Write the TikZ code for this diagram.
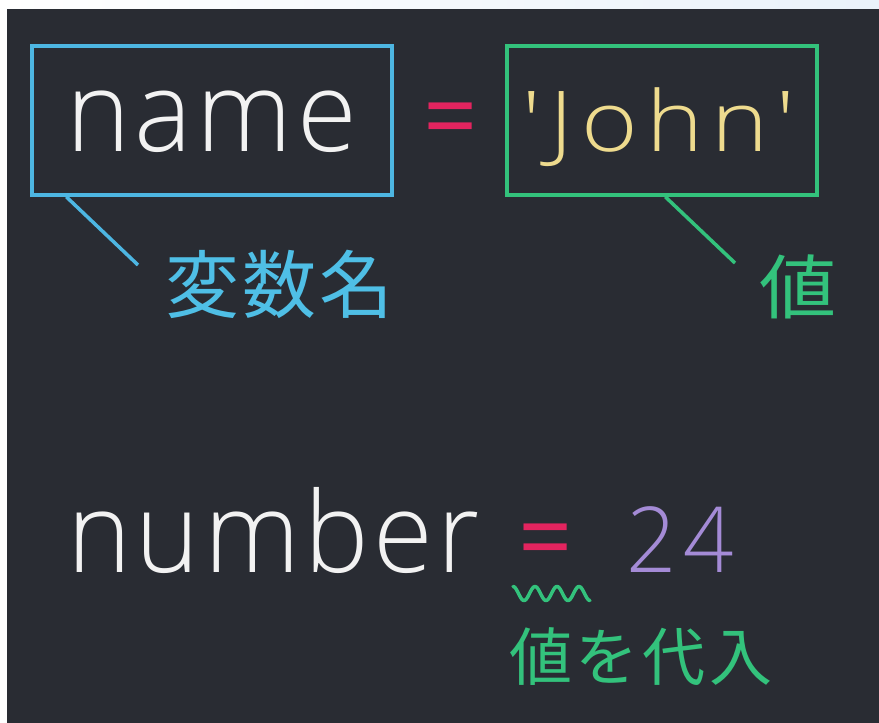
\documentclass[tikz,border=0pt]{standalone}
\usepackage{fontspec}
\usetikzlibrary{calc}
\IfFontExistsTF{Open Sans Light}{\newfontfamily\latinf{Open Sans Light}[FakeStretch=0.97]\newfontfamily\widef{Open Sans Light}[FakeStretch=1.15]}{\newfontfamily\latinf{Open Sans}[FakeStretch=0.97]\newfontfamily\widef{Open Sans}[FakeStretch=1.15]}
\newfontfamily\eqf{Open Sans}[FakeStretch=0.95]
\newfontfamily\cjkf{Noto Sans CJK JP}
\newfontfamily\cjkwf{Noto Sans CJK JP}[FakeStretch=1.1]
\definecolor{bg}{HTML}{292C33}
\definecolor{cblue}{HTML}{4DB6E2}
\definecolor{ctblue}{HTML}{4FBFE6}
\definecolor{cgreen}{HTML}{33C27C}
\definecolor{cred}{HTML}{E3245F}
\definecolor{cyellow}{HTML}{EEDB8E}
\definecolor{cpurple}{HTML}{A48BD6}
\definecolor{cwhite}{HTML}{F2F2F2}
\definecolor{edge}{HTML}{EAF2FA}
\begin{document}
\begin{tikzpicture}[x=1pt,y=-1pt,
  lbl/.style={inner sep=0pt, anchor=base west},
  frame/.style={draw=#1, line width=3.5pt, inner sep=0pt},
  lead/.style={draw=#1, line width=3.5pt}]
\useasboundingbox (0,0) rectangle (879,723);
\shade[left color=white, right color=edge] (0,0) rectangle (879,723);
\fill[bg] (7,9) rectangle (879,723);
% boxes
\node[frame=cblue, minimum width=360pt, minimum height=149pt] (namebox) at (212,120.5) {};
\node[frame=cgreen, minimum width=310pt, minimum height=149pt] (johnbox) at (662,120.5) {};
% texts
\node[lbl, text=cwhite, font=\latinf\fontsize{112}{112}\selectfont\addfontfeatures{LetterSpace=4}] (name) at (66,151) {name};
\node[lbl, text=cred, font=\eqf\fontsize{100}{100}\selectfont] (eq1) at (423,151) {=};
\node[lbl, text=cyellow, font=\widef\fontsize{84}{84}\selectfont\addfontfeatures{LetterSpace=10}] (john) at (522,151) {'John'};
\node[lbl, text=ctblue, font=\cjkf\fontsize{74}{74}\selectfont\addfontfeatures{LetterSpace=4.5}] (varname) at (165,312) {変数名};
\node[lbl, text=cgreen, font=\cjkwf\fontsize{70}{70}\selectfont] (value) at (759,313) {値};
\node[lbl, text=cwhite, font=\latinf\fontsize{112}{112}\selectfont\addfontfeatures{LetterSpace=4}] (number) at (67,572) {number};
\node[lbl, text=cred, font=\eqf\fontsize{100}{100}\selectfont] (eq2) at (518,572) {=};
\node[lbl, text=cpurple, font=\latinf\fontsize{91}{91}\selectfont\addfontfeatures{LetterSpace=8}] (num) at (626,572) {24};
\node[lbl, text=cgreen, font=\cjkf\fontsize{63}{63}\selectfont\addfontfeatures{LetterSpace=6}] (assign) at (509,680) {値を代入};
% leaders
\coordinate (e1) at (138,265);
\coordinate (e2) at (735,263);
\draw[lead=cblue] ($(namebox.south west)+(36,0)$) -- (e1);
\draw[lead=cgreen] ($(johnbox.south west)+(160,0)$) -- (e2);
% wavy underline
\draw[cgreen, line width=3.5pt, line cap=round, line join=round]
  plot[domain=0:1, samples=90, smooth] ({513+77*\x}, {593.5-7*cos(1260*\x)});
\end{tikzpicture}
\end{document}
